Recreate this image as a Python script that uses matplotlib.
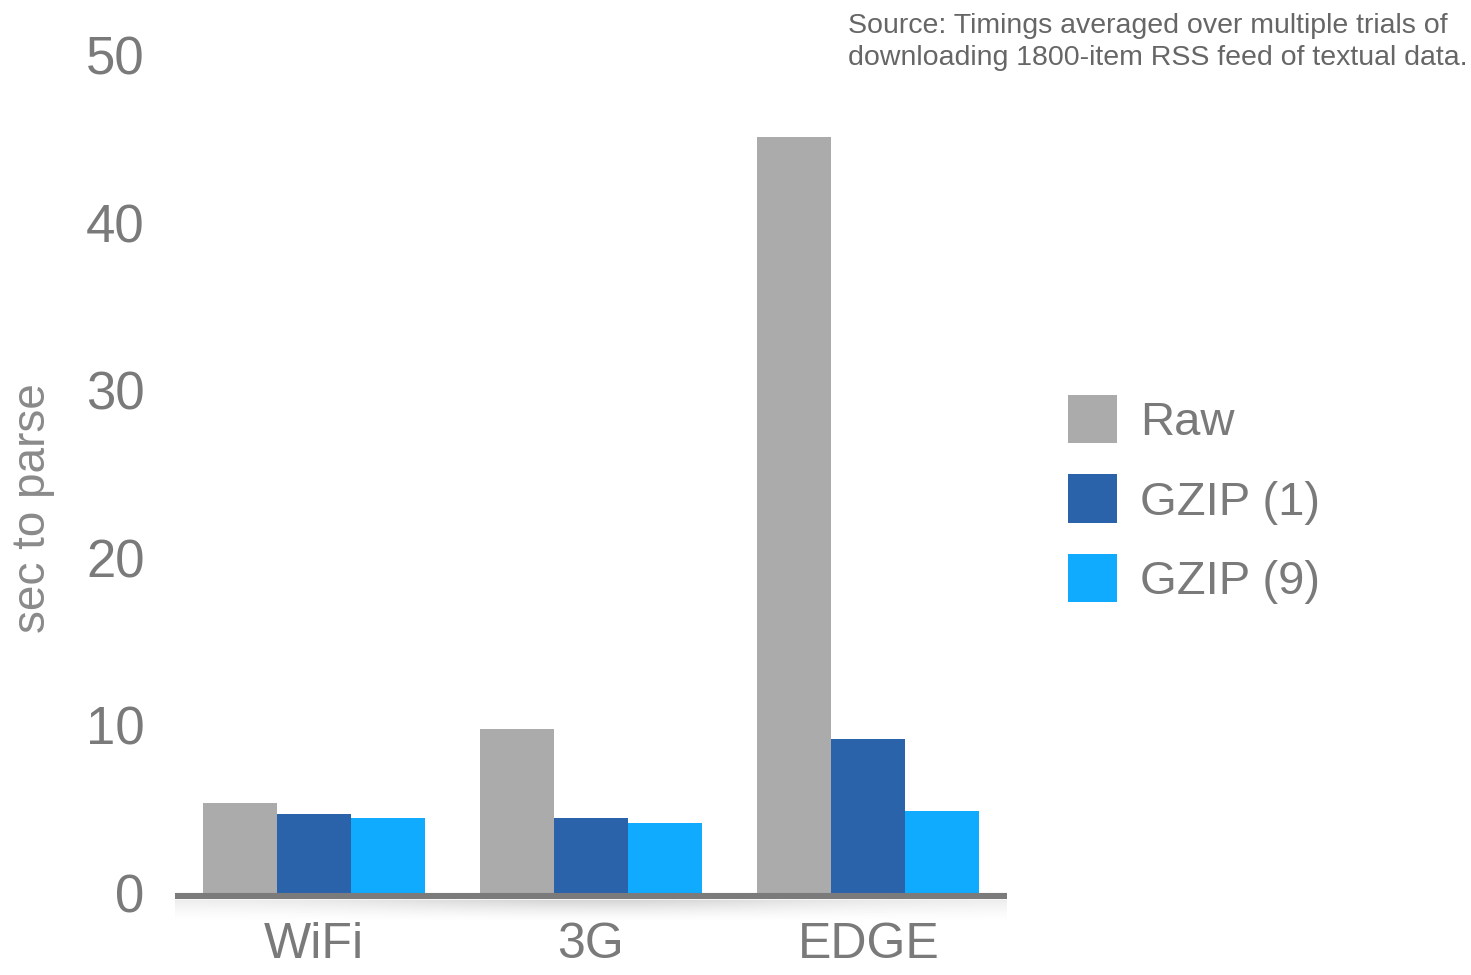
import numpy as np
import matplotlib
matplotlib.use("Agg")
import matplotlib.pyplot as plt

# Donnees
networks = ["WiFi", "3G", "EDGE"]
series_names = ["Raw", "GZIP (1)", "GZIP (9)"]
raw = [5.4, 9.8, 45.1]
gzip1 = [4.7, 4.5, 9.2]
gzip9 = [4.5, 4.2, 4.9]
y_ticks = [0, 10, 20, 30, 40, 50]
colors = ["#ababab", "#2a63aa", "#10aaff"]
note = ("Source: Timings averaged over multiple trials of\n"
        "downloading 1800-item RSS feed of textual data.")

plt.rcParams["font.family"] = ["Liberation Sans", "DejaVu Sans"]


def main():
    W, H = 1471, 975
    fig = plt.figure(figsize=(W / 100, H / 100), dpi=100)
    fig.patch.set_facecolor("white")

    # axe principal (pixels -> fractions)
    y_top, y_bot = 55, 901.4
    ax = fig.add_axes([175 / W, (H - y_bot) / H, 832 / W, (y_bot - y_top) / H])

    x = np.arange(len(networks))
    w = 0.267
    for i, (vals, name) in enumerate(zip([raw, gzip1, gzip9], series_names)):
        ax.bar(x + (i - 1) * w, vals, width=w, color=colors[i], label=name,
               zorder=2, linewidth=0)

    ax.axhline(-0.2, color="#7b7b7b", lw=4.4, zorder=3)

    ax.set_xlim(-0.5, 2.5)
    ax.set_ylim(-0.5, 50)
    ax.set_yticks(y_ticks)
    ax.set_yticklabels([str(t) for t in y_ticks], fontsize=38, color="#7a7a7a")
    ax.set_xticks(x)
    ax.set_xticklabels(networks, fontsize=36, color="#7a7a7a")
    ax.tick_params(axis="y", length=0, pad=22)
    ax.tick_params(axis="x", length=0, pad=15)
    for s in ax.spines.values():
        s.set_visible(False)

    fig.text(33 / W, 1 - 508 / H, "sec to parse", rotation=90,
             fontsize=33, color="#8a8a8a", ha="center", va="center")

    # ombre sous l'axe
    sh = fig.add_axes([175 / W, (H - 922) / H, 832 / W, 22 / H])
    sh.set_axis_off()
    xx = np.linspace(-1, 1, 400)
    yy = np.linspace(0, 1, 40)
    horiz = 0.12 + 0.18 * np.exp(-(xx / 0.55) ** 2)
    vert = (1 - yy) ** 1.5
    alpha = np.outer(vert, horiz)
    img = np.zeros((40, 400, 4))
    img[..., :3] = 0.45
    img[..., 3] = alpha
    sh.imshow(img, aspect="auto", extent=[0, 1, 0, 1], origin="upper")

    leg = ax.legend(loc="upper left", bbox_to_anchor=(1068 / W, 1 - 395 / H),
                    bbox_transform=fig.transFigure, frameon=False, fontsize=34,
                    handlelength=1.04, handleheight=1.2, handletextpad=0.48,
                    labelspacing=0.62, borderpad=0, borderaxespad=0)
    for t in leg.get_texts():
        t.set_color("#7a7a7a")

    fig.text(848 / W, 1 - 13 / H, note, fontsize=20.5, color="#666666",
             ha="left", va="top", linespacing=1.3)

    fig.savefig("out.png", dpi=100)
    plt.close(fig)


if __name__ == "__main__":
    main()
